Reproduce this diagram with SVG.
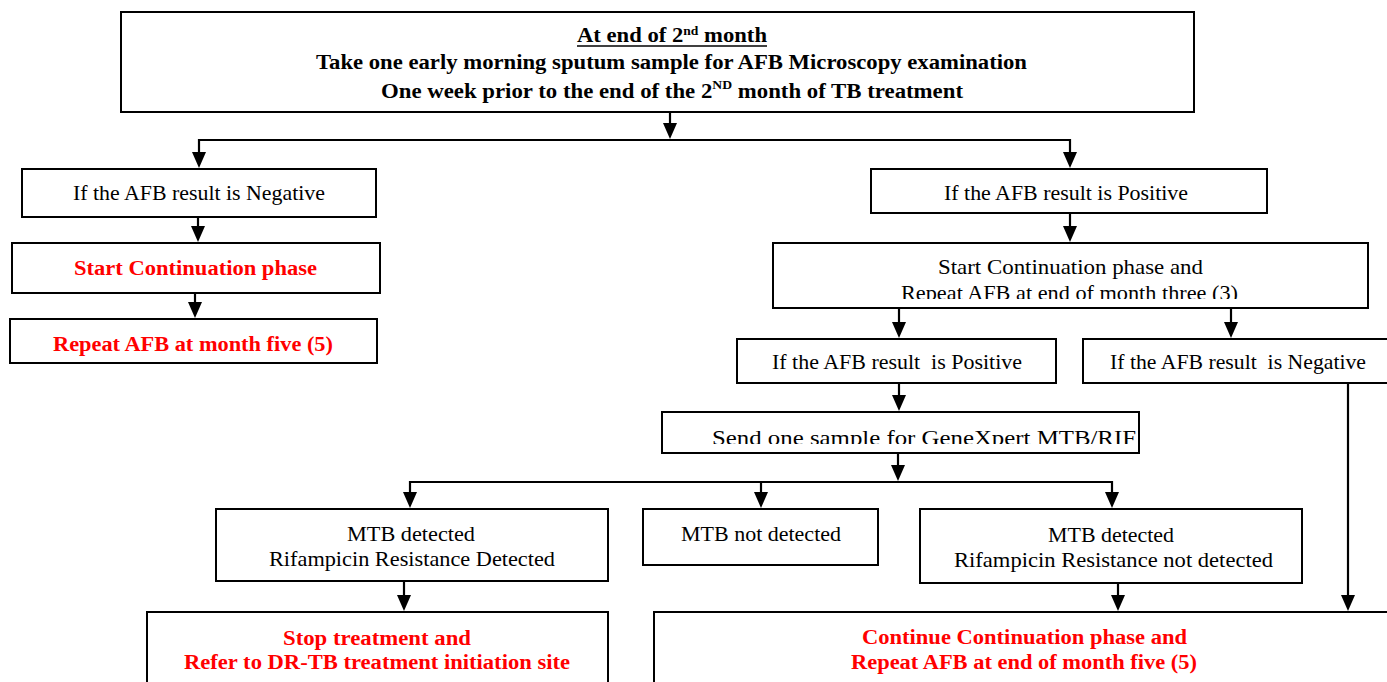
<svg xmlns="http://www.w3.org/2000/svg" width="1387" height="682" viewBox="0 0 1387 682">
  <style>
    .box { fill: #ffffff; stroke: #000000; stroke-width: 2; }
    .link { fill: none; stroke: #000000; stroke-width: 2.2; marker-end: url(#arrow); }
    .plain { fill: none; stroke: #000000; stroke-width: 2.2; }
    .t { font-family: "Liberation Serif", "DejaVu Serif", serif; font-size: 21px; fill: #000000; text-anchor: middle; white-space: pre; }
    .b { font-weight: bold; font-size: 20px; }
    .red { fill: #ff0000; font-weight: bold; font-size: 20px; }
  </style>
  <defs>
    <!-- filled arrowhead; tip sits 3px past the end of the line -->
    <marker id="arrow" markerUnits="userSpaceOnUse" viewBox="0 0 19 14" markerWidth="19" markerHeight="14" refX="3" refY="7" orient="auto">
      <path d="M3,0 L19,7 L3,14 Z" fill="#000000"/>
    </marker>
    <clipPath id="clipMonth3"><rect x="774" y="244" width="593" height="55"/></clipPath>
    <clipPath id="clipXpert"><rect x="663" y="413" width="475" height="31"/></clipPath>
  </defs>

  <rect width="1387" height="682" fill="#ffffff"/>

  <!-- connectors -->
  <g id="connectors">
    <line class="link" x1="670" y1="112" x2="670" y2="123"/>
    <line class="plain" x1="199" y1="140" x2="1070" y2="140"/>
    <line class="link" x1="199" y1="139" x2="199" y2="152"/>
    <line class="link" x1="1070" y1="139" x2="1070" y2="152"/>
    <line class="link" x1="198" y1="217" x2="198" y2="226"/>
    <line class="link" x1="195" y1="293" x2="195" y2="302"/>
    <line class="link" x1="1070" y1="213" x2="1070" y2="226"/>
    <line class="link" x1="899" y1="308" x2="899" y2="322"/>
    <line class="link" x1="1231" y1="308" x2="1231" y2="322"/>
    <line class="link" x1="899" y1="383" x2="899" y2="395"/>
    <line class="link" x1="898" y1="453" x2="898" y2="465"/>
    <line class="plain" x1="410" y1="482" x2="1112" y2="482"/>
    <line class="link" x1="410" y1="481" x2="410" y2="492"/>
    <line class="link" x1="761" y1="481" x2="761" y2="492"/>
    <line class="link" x1="1112" y1="481" x2="1112" y2="492"/>
    <line class="link" x1="404" y1="581" x2="404" y2="595"/>
    <line class="link" x1="1118" y1="583" x2="1118" y2="595"/>
    <line class="link" x1="1348" y1="383" x2="1348" y2="595"/>
  </g>

  <!-- start: sputum at end of month 2 -->
  <g id="node-start">
    <rect class="box" x="121" y="12" width="1073" height="100"/>
    <text class="t b" x="672" y="42" textLength="190" lengthAdjust="spacingAndGlyphs">At end of 2<tspan font-size="12" dy="-7">nd</tspan><tspan dy="7"> month</tspan></text>
    <line x1="577" y1="46" x2="767" y2="46" stroke="#000000" stroke-width="1.6"/>
    <text class="t b" x="671.5" y="69" textLength="711" lengthAdjust="spacingAndGlyphs">Take one early morning sputum sample for AFB Microscopy examination</text>
    <text class="t b" x="672" y="98" textLength="582" lengthAdjust="spacingAndGlyphs">One week prior to the end of the 2<tspan font-size="12" dy="-9">ND</tspan><tspan dy="9"> month of TB treatment</tspan></text>
  </g>

  <!-- left branch -->
  <g id="node-neg">
    <rect class="box" x="22" y="169" width="354" height="48"/>
    <text class="t" x="199" y="200" textLength="252" lengthAdjust="spacingAndGlyphs">If the AFB result is Negative</text>
  </g>
  <g id="node-cp">
    <rect class="box" x="12" y="243" width="368" height="50"/>
    <text class="t red" x="195.5" y="275" textLength="243" lengthAdjust="spacingAndGlyphs">Start Continuation phase</text>
  </g>
  <g id="node-m5">
    <rect class="box" x="10" y="319" width="367" height="44"/>
    <text class="t red" x="193" y="351" textLength="280" lengthAdjust="spacingAndGlyphs">Repeat AFB at month five (5)</text>
  </g>

  <!-- right branch -->
  <g id="node-pos">
    <rect class="box" x="871" y="169" width="396" height="44"/>
    <text class="t" x="1066" y="200" textLength="244" lengthAdjust="spacingAndGlyphs">If the AFB result is Positive</text>
  </g>
  <g id="node-cp3">
    <rect class="box" x="773" y="243" width="595" height="65"/>
    <text class="t" x="1070.5" y="274" textLength="265" lengthAdjust="spacingAndGlyphs">Start Continuation phase and</text>
    <text class="t" x="1069.5" y="299.5" textLength="337" lengthAdjust="spacingAndGlyphs" clip-path="url(#clipMonth3)">Repeat AFB at end of month three (3)</text>
  </g>
  <g id="node-pos3">
    <rect class="box" x="737" y="339" width="319" height="44"/>
    <text class="t" x="897" y="369" textLength="250" lengthAdjust="spacingAndGlyphs">If the AFB result  is Positive</text>
  </g>
  <g id="node-neg3">
    <rect class="box" x="1083" y="339" width="310" height="44"/>
    <text class="t" x="1238" y="369" textLength="256" lengthAdjust="spacingAndGlyphs">If the AFB result  is Negative</text>
  </g>
  <g id="node-xpert">
    <rect class="box" x="662" y="412" width="477" height="41"/>
    <text class="t" x="924" y="444.5" textLength="424" lengthAdjust="spacingAndGlyphs" clip-path="url(#clipXpert)">Send one sample for GeneXpert MTB/RIF</text>
  </g>

  <!-- GeneXpert outcomes -->
  <g id="node-rr">
    <rect class="box" x="216" y="509" width="392" height="72"/>
    <text class="t" x="411" y="541" textLength="128" lengthAdjust="spacingAndGlyphs">MTB detected</text>
    <text class="t" x="412" y="566" textLength="286" lengthAdjust="spacingAndGlyphs">Rifampicin Resistance Detected</text>
  </g>
  <g id="node-notdet">
    <rect class="box" x="643" y="509" width="235" height="56"/>
    <text class="t" x="761" y="541" textLength="160" lengthAdjust="spacingAndGlyphs">MTB not detected</text>
  </g>
  <g id="node-rs">
    <rect class="box" x="920" y="509" width="382" height="74"/>
    <text class="t" x="1111" y="542" textLength="126" lengthAdjust="spacingAndGlyphs">MTB detected</text>
    <text class="t" x="1113.5" y="567" textLength="319" lengthAdjust="spacingAndGlyphs">Rifampicin Resistance not detected</text>
  </g>

  <!-- final actions -->
  <g id="node-stop">
    <rect class="box" x="147" y="612" width="461" height="90"/>
    <text class="t red" x="377" y="645" textLength="188" lengthAdjust="spacingAndGlyphs">Stop treatment and</text>
    <text class="t red" x="377" y="669" textLength="386" lengthAdjust="spacingAndGlyphs">Refer to DR-TB treatment initiation site</text>
  </g>
  <g id="node-continue">
    <rect class="box" x="654" y="612" width="750" height="90"/>
    <text class="t red" x="1024.5" y="644" textLength="325" lengthAdjust="spacingAndGlyphs">Continue Continuation phase and</text>
    <text class="t red" x="1024" y="669" textLength="346" lengthAdjust="spacingAndGlyphs">Repeat AFB at end of month five (5)</text>
  </g>
</svg>
